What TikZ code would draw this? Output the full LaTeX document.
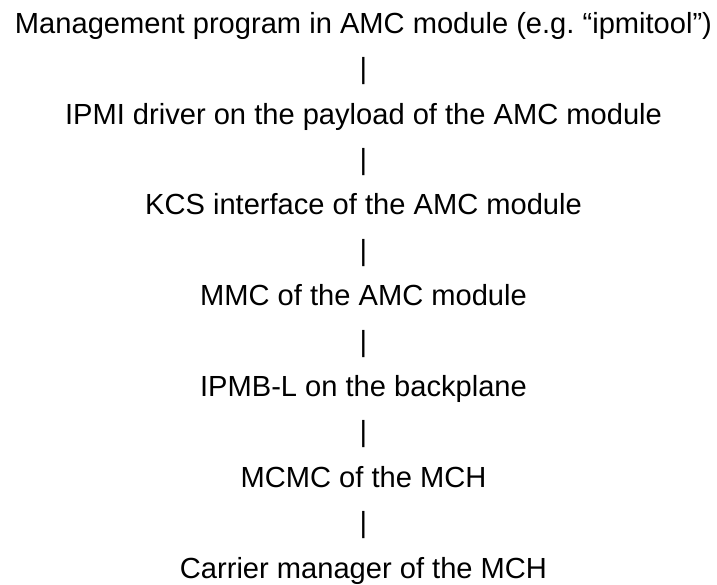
\documentclass[tikz,border=0pt]{standalone}
\usepackage{fontspec}
\setmainfont{Liberation Sans}
\frenchspacing
\begin{document}
\begin{tikzpicture}[x=1bp,y=-1bp,
  line/.style={anchor=base,inner sep=0pt,outer sep=0pt,
    font=\fontsize{29.1bp}{34bp}\selectfont}]
\useasboundingbox (0,0) rectangle (717,585);
\def\cx{363.5}
\def\dy{45.4}
\node[line] (l0)  at (\cx,33.3+0*\dy)  {Management program in AMC module (e.g.\ “ipmitool”)};
\node[line] (b1)  at (\cx,33.3+1*\dy)  {|};
\node[line] (l1)  at (\cx,33.3+2*\dy)  {IPMI driver on the payload of the AMC module};
\node[line] (b2)  at (\cx,33.3+3*\dy)  {|};
\node[line] (l2)  at (\cx,33.3+4*\dy)  {KCS interface of the AMC module};
\node[line] (b3)  at (\cx,33.3+5*\dy)  {|};
\node[line] (l3)  at (\cx,33.3+6*\dy)  {MMC of the AMC module};
\node[line] (b4)  at (\cx,33.3+7*\dy)  {|};
\node[line] (l4)  at (\cx,33.3+8*\dy)  {IPMB-L on the backplane};
\node[line] (b5)  at (\cx,33.3+9*\dy)  {|};
\node[line] (l5)  at (\cx,33.3+10*\dy) {MCMC of the MCH};
\node[line] (b6)  at (\cx,33.3+11*\dy) {|};
\node[line] (l6)  at (\cx,33.3+12*\dy) {Carrier manager of the MCH};
\end{tikzpicture}
\end{document}
